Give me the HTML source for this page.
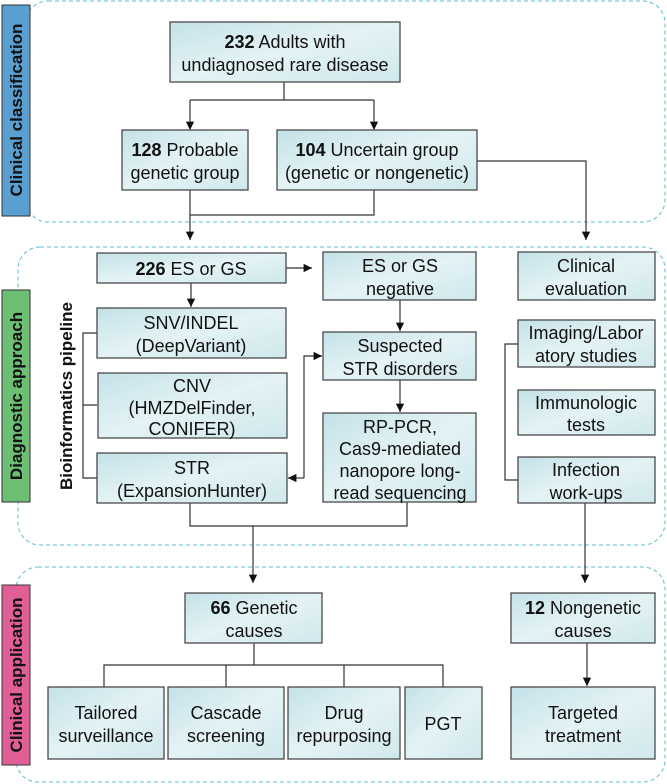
<!DOCTYPE html>
<html><head><meta charset="utf-8"><style>
body{margin:0;background:#fff}
svg{display:block}
text{font-family:"Liberation Sans",Arial,sans-serif;font-size:18px;fill:#111;text-anchor:middle}
.b{font-weight:bold}
.bx{fill:url(#g);stroke:#4a4a4a;stroke-width:1.3}
.ln{stroke:#333;stroke-width:1.2;fill:none}
.d{fill:none;stroke:#5bbfd0;stroke-width:1;stroke-dasharray:4 3}
.lab{font-weight:bold;font-size:17px}
</style></head><body>
<svg width="667" height="784" viewBox="0 0 667 784" xmlns="http://www.w3.org/2000/svg">
<defs>
<linearGradient id="g" x1="0" y1="0" x2="1" y2="1"><stop offset="0" stop-color="#c4e2e8"/><stop offset="0.5" stop-color="#e4f3f5"/><stop offset="1" stop-color="#cfe8ec"/></linearGradient>
<marker id="a" viewBox="0 0 10 10" refX="10" refY="5" markerWidth="7" markerHeight="7" orient="auto"><path d="M0,0L10,5L0,10z" fill="#111"/></marker>
</defs>
<rect class="d" x="26" y="1" width="639" height="221" rx="22"/>
<rect class="d" x="18" y="247" width="647" height="298" rx="22"/>
<rect class="d" x="16" y="567" width="649" height="215" rx="22"/>
<rect x="2" y="5" width="28" height="211" fill="#5a9fd0" stroke="#333" stroke-width="1"/>
<text class="lab" transform="translate(22,110) rotate(-90)">Clinical classification</text>
<rect x="2" y="290" width="28" height="212" fill="#6cbf73" stroke="#333" stroke-width="1"/>
<text class="lab" transform="translate(22,396) rotate(-90)">Diagnostic approach</text>
<rect x="2" y="585" width="28" height="180" fill="#e05f96" stroke="#333" stroke-width="1"/>
<text class="lab" transform="translate(22,675) rotate(-90)">Clinical application</text>
<text class="lab" transform="translate(72,396) rotate(-90)">Bioinformatics pipeline</text>

<path class="ln" d="M284,82V100M190,100H374"/>
<path class="ln" d="M190,100V130" marker-end="url(#a)"/>
<path class="ln" d="M374,100V130" marker-end="url(#a)"/>
<path class="ln" d="M190,190V240" marker-end="url(#a)"/>
<path class="ln" d="M374,190V215H190"/>
<path class="ln" d="M477,161H586V240" marker-end="url(#a)"/>
<path class="ln" d="M286,268H312" marker-end="url(#a)"/>
<path class="ln" d="M191,283V307" marker-end="url(#a)"/>
<path class="ln" d="M400,300V331" marker-end="url(#a)"/>
<path class="ln" d="M400,380V412" marker-end="url(#a)"/>
<path class="ln" d="M97,333H83V478H97M83,405H97"/>
<path class="ln" d="M304,478V356H322" marker-end="url(#a)"/>
<path class="ln" d="M304,478H288" marker-end="url(#a)"/>
<path class="ln" d="M518,344H505V480H518"/>
<path class="ln" d="M190,503V526H407V502"/>
<path class="ln" d="M253,526V583" marker-end="url(#a)"/>
<path class="ln" d="M585,503V583" marker-end="url(#a)"/>
<path class="ln" d="M254,643V665M104,687V665H443V687M226,665V687M344,665V687"/>
<path class="ln" d="M587,643V686" marker-end="url(#a)"/>

<rect class="bx" x="170" y="22" width="230" height="60"/>
<text x="285" y="48"><tspan class="b">232</tspan> Adults with</text>
<text x="285" y="71">undiagnosed rare disease</text>
<rect class="bx" x="122" y="130" width="126" height="60"/>
<text x="185" y="156"><tspan class="b">128</tspan> Probable</text>
<text x="185" y="179">genetic group</text>
<rect class="bx" x="277" y="130" width="200" height="60"/>
<text x="377" y="156"><tspan class="b">104</tspan> Uncertain group</text>
<text x="377" y="179">(genetic or nongenetic)</text>

<rect class="bx" x="97" y="253" width="189" height="30"/>
<text x="191" y="275"><tspan class="b">226</tspan> ES or GS</text>
<rect class="bx" x="323" y="252" width="153" height="48"/>
<text x="400" y="272">ES or GS</text><text x="400" y="295">negative</text>
<rect class="bx" x="518" y="252" width="137" height="48"/>
<text x="586" y="272">Clinical</text><text x="586" y="295">evaluation</text>

<rect class="bx" x="97" y="308" width="189" height="50"/>
<text x="191" y="329">SNV/INDEL</text><text x="191" y="352">(DeepVariant)</text>
<rect class="bx" x="98" y="373" width="189" height="65"/>
<text x="192" y="392">CNV</text><text x="192" y="414">(HMZDelFinder,</text><text x="192" y="435">CONIFER)</text>
<rect class="bx" x="97" y="453" width="190" height="50"/>
<text x="192" y="474">STR</text><text x="192" y="497">(ExpansionHunter)</text>

<rect class="bx" x="323" y="332" width="153" height="48"/>
<text x="400" y="352">Suspected</text><text x="400" y="375">STR disorders</text>
<rect class="bx" x="323" y="413" width="153" height="89"/>
<text x="400" y="433">RP-PCR,</text><text x="400" y="455">Cas9-mediated</text><text x="400" y="477">nanopore long-</text><text x="400" y="499">read sequencing</text>

<rect class="bx" x="518" y="320" width="137" height="47"/>
<text x="586" y="339">Imaging/Labor</text><text x="586" y="362">atory studies</text>
<rect class="bx" x="518" y="390" width="137" height="45"/>
<text x="586" y="409">Immunologic</text><text x="586" y="431">tests</text>
<rect class="bx" x="518" y="457" width="137" height="46"/>
<text x="586" y="476">Infection</text><text x="586" y="499">work-ups</text>

<rect class="bx" x="185" y="593" width="137" height="50"/>
<text x="254" y="614"><tspan class="b">66</tspan> Genetic</text><text x="254" y="637">causes</text>
<rect class="bx" x="511" y="593" width="144" height="50"/>
<text x="583" y="614"><tspan class="b">12</tspan> Nongenetic</text><text x="583" y="637">causes</text>

<rect class="bx" x="48" y="687" width="116" height="72"/>
<text x="106" y="719">Tailored</text><text x="106" y="742">surveillance</text>
<rect class="bx" x="168" y="687" width="116" height="72"/>
<text x="226" y="719">Cascade</text><text x="226" y="742">screening</text>
<rect class="bx" x="288" y="687" width="112" height="72"/>
<text x="344" y="719">Drug</text><text x="344" y="742">repurposing</text>
<rect class="bx" x="405" y="687" width="77" height="72"/>
<text x="443" y="730">PGT</text>
<rect class="bx" x="511" y="687" width="144" height="72"/>
<text x="583" y="719">Targeted</text><text x="583" y="742">treatment</text>
</svg>
</body></html>
